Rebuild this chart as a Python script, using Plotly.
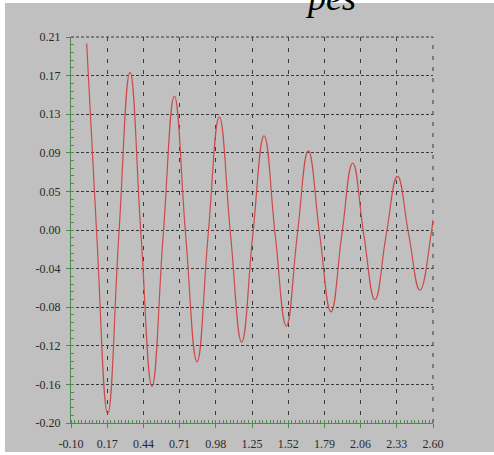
import plotly.graph_objects as go

# Damped oscillation: extrema and zero crossings of the response
t_values = [0.017, 0.092, 0.174, 0.257, 0.340, 0.422, 0.504, 0.588, 0.671,
            0.755, 0.840, 0.923, 1.006, 1.090, 1.173, 1.256, 1.340, 1.423,
            1.506, 1.588, 1.670, 1.755, 1.839, 1.920, 2.001, 2.084, 2.167,
            2.251, 2.335, 2.419, 2.503, 2.585, 2.600]
pes_values = [0.203, 0.000, -0.190, 0.000, 0.1725, 0.000, -0.161, 0.000, 0.147,
              0.000, -0.135, 0.000, 0.125, 0.000, -0.114, 0.000, 0.105, 0.000,
              -0.097, 0.000, 0.089, 0.000, -0.082, 0.000, 0.076, 0.000, -0.069,
              0.000, 0.062, 0.000, -0.059, 0.000, 0.016]

x_ticks = [-0.10, 0.17, 0.44, 0.71, 0.98, 1.25, 1.52, 1.79, 2.06, 2.33, 2.60]
x_tick_labels = ["-0.10", "0.17", "0.44", "0.71", "0.98", "1.25", "1.52",
                 "1.79", "2.06", "2.33", "2.60"]
y_ticks = [-0.20, -0.159, -0.118, -0.077, -0.036, 0.005, 0.046, 0.087,
           0.128, 0.169, 0.21]
y_tick_labels = ["-0.20", "-0.16", "-0.12", "-0.08", "-0.04", "0.00", "0.05",
                 "0.09", "0.13", "0.17", "0.21"]
title_text = "pes"

GRAY = "#c0c0c0"
GREEN = "#4f8a4f"
GRID = "#3a3a3a"
X_DASH = "4px,7px"
Y_DASH = "3px,2px"
LABEL_FONT = dict(family="Liberation Serif, serif", size=12, color="#2a2a2a")

fig = go.Figure()
fig.add_trace(go.Scatter(
    x=t_values, y=pes_values, mode="lines",
    line=dict(color="#cc4a4a", width=1.2, shape="spline", smoothing=1.3),
    hoverinfo="skip", showlegend=False,
))

L, R, T, B = 71, 61, 37, 32
W, H = 494, 455
pw, ph = W - L - R, H - T - B

shapes = [
    # gray panel behind the whole chart, leaving a thin white frame
    dict(type="rect", xref="paper", yref="paper", layer="below",
         x0=(5 - L) / pw, x1=(W - L) / pw,
         y0=-(452 - (H - B)) / ph, y1=((H - B) - 3) / ph,
         fillcolor=GRAY, line=dict(width=0)),
    # grid lines on the far edges of the plotting area
    dict(type="line", xref="paper", yref="paper", layer="below",
         x0=1, x1=1, y0=0, y1=1, line=dict(color=GRID, width=1, dash=X_DASH)),
    dict(type="line", xref="paper", yref="paper", layer="below",
         x0=0, x1=1, y0=1, y1=1, line=dict(color=GRID, width=1, dash=Y_DASH)),
]

fig.update_layout(
    width=W, height=H,
    margin=dict(l=L, r=R, t=T, b=B, pad=0, autoexpand=False),
    paper_bgcolor="white",
    plot_bgcolor=GRAY,
    showlegend=False,
    shapes=shapes,
    annotations=[dict(
        text="<i>" + title_text + "</i>", xref="paper", yref="paper",
        x=(330 - L) / pw, y=((H - B) - 20) / ph,
        xanchor="center", yanchor="bottom", showarrow=False,
        font=dict(family="Liberation Serif, serif", size=36, color="black"),
    )],
)

fig.update_xaxes(
    range=[-0.10, 2.60], tickmode="array", tickvals=x_ticks, ticktext=x_tick_labels,
    showline=True, linecolor=GREEN, linewidth=1, automargin=False,
    ticks="outside", ticklen=4, tickcolor=GREEN, ticklabelstandoff=6,
    showgrid=True, gridcolor=GRID, gridwidth=1, griddash=X_DASH,
    zeroline=False, tickfont=LABEL_FONT,
    minor=dict(tickmode="linear", tick0=-0.10, dtick=0.027, ticks="inside",
               ticklen=3, tickcolor=GREEN, showgrid=False),
)
fig.update_yaxes(
    range=[-0.20, 0.21], tickmode="array", tickvals=y_ticks, ticktext=y_tick_labels,
    showline=True, linecolor=GREEN, linewidth=1, automargin=False,
    ticks="outside", ticklen=4, tickcolor=GREEN, ticklabelstandoff=3,
    showgrid=True, gridcolor=GRID, gridwidth=1, griddash=Y_DASH,
    zeroline=False, tickfont=LABEL_FONT,
    minor=dict(tickmode="linear", tick0=-0.20, dtick=0.0082, ticks="inside",
               ticklen=3, tickcolor=GREEN, showgrid=False),
)

fig.write_html("out.html")
